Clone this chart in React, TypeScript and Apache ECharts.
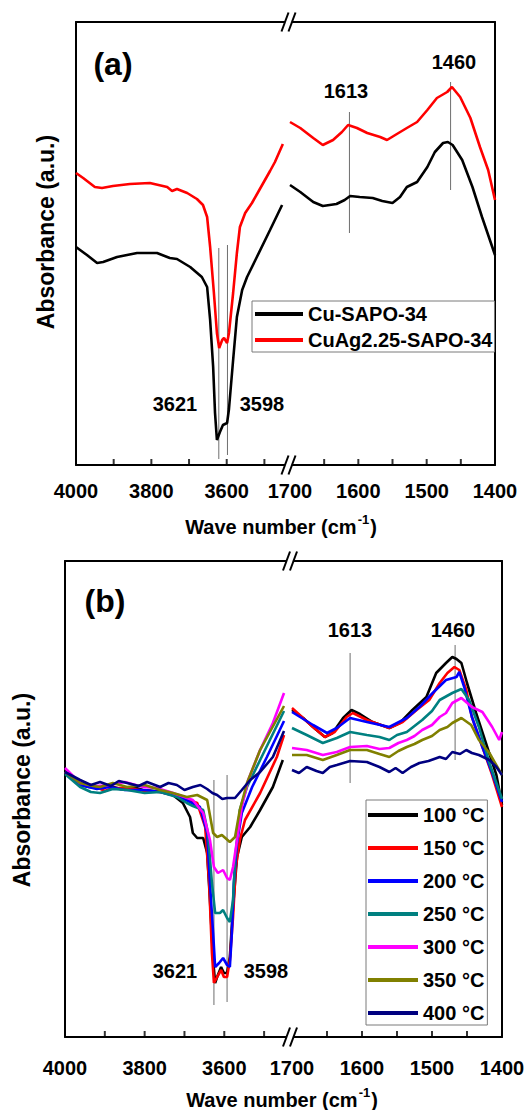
import React, { useEffect, useRef } from 'react';
import * as echarts from 'echarts';

const FONT = '"Liberation Sans", Arial, Helvetica, sans-serif';

// ---------- Panel (a) ----------
const aNames = ['Cu-SAPO-34', 'CuAg2.25-SAPO-34'];
const aColors = ['#000000', '#ff0000'];

const aCuLeft: [number, number][] = [
  [4000, 218], [3971, 210], [3944, 202], [3928, 203], [3891, 208], [3838, 212], [3785, 212],
  [3751, 207], [3732, 206], [3697, 198], [3666, 188], [3652, 178], [3644, 145], [3636, 98],
  [3631, 52], [3626, 25], [3618, 33], [3610, 40], [3599, 42], [3594, 56], [3583, 105],
  [3573, 148], [3559, 175], [3546, 188], [3520, 208], [3485, 235], [3453, 260],
];
const aCuRight: [number, number][] = [
  [1700, 280], [1685, 273], [1666, 263], [1652, 259], [1632, 261], [1620, 265], [1612, 269],
  [1598, 268], [1579, 267], [1565, 264], [1550, 262], [1539, 268], [1529, 278], [1514, 283],
  [1499, 298], [1488, 313], [1476, 322], [1469, 323], [1462, 320], [1448, 305], [1433, 278],
  [1419, 248], [1404, 218], [1400, 210],
];
const aAgLeft: [number, number][] = [
  [4000, 292], [3981, 287], [3950, 278], [3931, 277], [3902, 279], [3857, 281], [3804, 282],
  [3758, 278], [3745, 274], [3732, 276], [3705, 272], [3679, 266], [3663, 260], [3652, 248],
  [3644, 218], [3634, 172], [3626, 132], [3620, 117], [3612, 125], [3607, 127], [3599, 122],
  [3594, 132], [3583, 172], [3573, 212], [3565, 238], [3551, 252], [3533, 262], [3512, 276],
  [3485, 294], [3472, 303], [3451, 321],
];
const aAgRight: [number, number][] = [
  [1700, 343], [1685, 337], [1666, 327], [1652, 320], [1637, 325], [1624, 333], [1615, 340],
  [1602, 337], [1587, 332], [1568, 328], [1558, 325], [1546, 330], [1529, 337], [1514, 343],
  [1499, 355], [1485, 367], [1470, 373], [1463, 378], [1451, 368], [1436, 347], [1422, 318],
  [1410, 295], [1400, 265],
];
// peak marker lines: [wavenumber, yFrom, yTo]
const aPeakLinesLeft: [number, number, number][] = [[3621, 6, 217], [3598, 10, 220]];
const aPeakLinesRight: [number, number, number][] = [[1613, 232, 353], [1465, 275, 383]];

// ---------- Panel (b) ----------
const bNames = ['100 °C', '150 °C', '200 °C', '250 °C', '300 °C', '350 °C', '400 °C'];
const bColors = ['#000000', '#ff0000', '#0000ff', '#008080', '#ff00ff', '#808000', '#000080'];

const b100Left: [number, number][] = [
  [4000, 265], [3985, 259], [3962, 252], [3940, 250], [3912, 249], [3887, 251], [3860, 248],
  [3830, 250], [3804, 247], [3775, 246], [3745, 245], [3729, 242], [3704, 234], [3686, 220],
  [3679, 204], [3668, 199], [3653, 199], [3643, 184], [3636, 137], [3628, 77], [3623, 54],
  [3618, 60], [3608, 70], [3601, 64], [3593, 64], [3586, 80], [3578, 130], [3568, 180],
  [3556, 200], [3535, 210], [3510, 227], [3478, 250], [3453, 277],
];
const b150Left: [number, number][] = [
  [4000, 265], [3962, 252], [3920, 250], [3900, 246], [3880, 249], [3840, 249], [3800, 246],
  [3761, 245], [3711, 240], [3668, 234], [3648, 210], [3638, 154], [3631, 84], [3626, 54],
  [3618, 60], [3608, 67], [3601, 60], [3593, 60], [3586, 77], [3578, 120], [3571, 170],
  [3561, 197], [3548, 217], [3510, 244], [3468, 280], [3450, 302],
];
const b200Left: [number, number][] = [
  [4000, 265], [3962, 252], [3920, 248], [3887, 250], [3850, 247], [3800, 247], [3761, 245],
  [3711, 240], [3661, 230], [3643, 204], [3636, 154], [3628, 104], [3623, 70], [3613, 74],
  [3603, 79], [3593, 72], [3586, 70], [3581, 104], [3576, 154], [3568, 194], [3556, 224],
  [3530, 250], [3493, 280], [3450, 316],
];
const b250Left: [number, number][] = [
  [4000, 263], [3962, 250], [3935, 245], [3912, 244], [3880, 248], [3844, 247], [3800, 244],
  [3761, 245], [3719, 240], [3694, 234], [3679, 231], [3653, 227], [3641, 204], [3631, 154],
  [3623, 124], [3611, 124], [3603, 127], [3593, 119], [3586, 115], [3578, 137], [3573, 177],
  [3561, 227], [3543, 250], [3510, 277], [3450, 326],
];
const b300Left: [number, number][] = [
  [4000, 269], [3962, 254], [3920, 251], [3887, 252], [3850, 255], [3804, 250], [3770, 249],
  [3736, 245], [3679, 237], [3653, 224], [3636, 197], [3626, 170], [3616, 164], [3603, 167],
  [3593, 159], [3586, 157], [3578, 170], [3568, 197], [3556, 230], [3540, 257], [3510, 287],
  [3478, 314], [3450, 344],
];
const b350Left: [number, number][] = [
  [4000, 265], [3962, 254], [3930, 251], [3912, 250], [3880, 254], [3844, 250], [3800, 252],
  [3761, 247], [3729, 244], [3694, 240], [3668, 242], [3643, 237], [3628, 204], [3618, 200],
  [3606, 202], [3586, 195], [3573, 200], [3561, 227], [3543, 254], [3510, 287], [3450, 331],
];
const b400Left: [number, number][] = [
  [4000, 265], [3962, 257], [3935, 252], [3912, 255], [3885, 251], [3865, 256], [3844, 254],
  [3815, 251], [3794, 255], [3761, 250], [3740, 254], [3719, 252], [3700, 247], [3679, 250],
  [3660, 252], [3643, 248], [3630, 244], [3618, 242], [3605, 238], [3593, 239], [3573, 239],
  [3556, 247], [3535, 257], [3510, 265], [3478, 280], [3450, 306],
];

const b100Right: [number, number][] = [
  [1700, 327], [1684, 319], [1670, 310], [1653, 300], [1642, 304], [1627, 319], [1615, 327],
  [1603, 323], [1585, 315], [1561, 309], [1546, 314], [1528, 327], [1508, 340], [1494, 364],
  [1480, 374], [1471, 380], [1465, 378], [1458, 374], [1450, 354], [1437, 324], [1423, 294],
  [1408, 262], [1400, 232],
];
const b150Right: [number, number][] = [
  [1700, 329], [1670, 310], [1653, 300], [1639, 305], [1622, 320], [1613, 324], [1593, 317],
  [1561, 309], [1542, 315], [1522, 327], [1504, 337], [1489, 354], [1478, 364], [1468, 370],
  [1461, 367], [1451, 347], [1443, 320], [1428, 290], [1414, 262], [1400, 230],
];
const b200Right: [number, number][] = [
  [1700, 325], [1670, 312], [1650, 304], [1636, 309], [1617, 319], [1593, 315], [1561, 310],
  [1536, 319], [1518, 330], [1499, 344], [1480, 357], [1465, 360], [1461, 365], [1454, 350],
  [1443, 320], [1428, 290], [1414, 264], [1400, 235],
];
const b250Right: [number, number][] = [
  [1700, 309], [1679, 302], [1656, 294], [1636, 299], [1617, 305], [1593, 302], [1575, 300],
  [1561, 297], [1550, 302], [1536, 305], [1514, 317], [1500, 326], [1489, 337], [1471, 344],
  [1458, 348], [1447, 337], [1433, 310], [1418, 274], [1400, 238],
];
const b300Right: [number, number][] = [
  [1700, 289], [1679, 287], [1656, 282], [1636, 285], [1617, 290], [1593, 291], [1575, 288],
  [1561, 289], [1548, 294], [1536, 297], [1525, 301], [1514, 307], [1500, 312], [1489, 320],
  [1480, 324], [1471, 334], [1458, 339], [1443, 330], [1428, 325], [1414, 310], [1404, 297],
  [1400, 305],
];
const b350Right: [number, number][] = [
  [1700, 282], [1679, 282], [1656, 277], [1636, 282], [1617, 287], [1593, 287], [1575, 283],
  [1561, 280], [1548, 286], [1536, 290], [1525, 293], [1514, 297], [1500, 301], [1489, 307],
  [1478, 310], [1471, 314], [1458, 319], [1444, 312], [1433, 297], [1418, 284], [1400, 262],
];
const b400Right: [number, number][] = [
  [1700, 267], [1690, 264], [1679, 270], [1665, 266], [1656, 264], [1646, 270], [1636, 272],
  [1617, 276], [1593, 275], [1575, 270], [1561, 265], [1552, 269], [1542, 264], [1530, 270],
  [1518, 274], [1505, 276], [1489, 280], [1480, 278], [1471, 285], [1460, 283], [1451, 287],
  [1443, 284], [1433, 282], [1418, 277], [1408, 270], [1400, 262],
];
const bLeftData = [b100Left, b150Left, b200Left, b250Left, b300Left, b350Left, b400Left];
const bRightData = [b100Right, b150Right, b200Right, b250Right, b300Right, b350Right, b400Right];
const bPeakLinesLeft: [number, number, number][] = [[3626, 32, 257], [3593, 35, 262]];
const bPeakLinesRight: [number, number, number][] = [[1617, 254, 384], [1467, 277, 392]];

// axis ticks
const leftTicks = [4000, 3900, 3800, 3700, 3600, 3500];
const leftLabels = [4000, 3800, 3600];
const rightTicks = [1700, 1650, 1600, 1550, 1500, 1450, 1400];
const rightLabels = [1700, 1600, 1500, 1400];

function App() {
  const ref = useRef<HTMLDivElement>(null);
  useEffect(() => {
    if (!ref.current) return;
    const chart = echarts.init(ref.current, undefined, { renderer: 'svg' });

    const grids = [
      { left: 76, top: 22, width: 211, height: 443 },
      { left: 290, top: 22, width: 205, height: 443 },
      { left: 65, top: 561, width: 223, height: 476 },
      { left: 292, top: 561, width: 210, height: 476 },
    ];
    const lbl = (vals: number[], margin: number) => ({
      show: true,
      customValues: vals,
      formatter: (v: number) => String(v),
      fontSize: 20,
      fontWeight: 'bold',
      color: '#000',
      fontFamily: FONT,
      margin,
    });
    const bottomX = (gi: number, left: boolean, margin: number) => ({
      type: 'value',
      gridIndex: gi,
      position: 'bottom',
      min: left ? 3440 : 1400,
      max: left ? 4000 : 1700,
      inverse: true,
      axisLine: { show: true, onZero: false, lineStyle: { color: '#000', width: 2 } },
      axisTick: { show: false },
      axisLabel: lbl(left ? leftLabels : rightLabels, margin),
      splitLine: { show: false },
    });
    const topX = (gi: number, left: boolean) => ({
      type: 'value',
      gridIndex: gi,
      position: 'top',
      min: left ? 3440 : 1400,
      max: left ? 4000 : 1700,
      inverse: true,
      axisLine: { show: true, onZero: false, lineStyle: { color: '#000', width: 2 } },
      axisTick: { show: false },
      axisLabel: { show: false },
      splitLine: { show: false },
    });
    const yAx = (gi: number, max: number, pos: string) => ({
      type: 'value',
      gridIndex: gi,
      min: 0,
      max,
      position: pos,
      axisLine: { show: true, onZero: false, lineStyle: { color: '#000', width: 2 } },
      axisTick: { show: false },
      axisLabel: { show: false },
      splitLine: { show: false },
    });

    const xAxis = [
      bottomX(0, true, 16), bottomX(1, false, 16), bottomX(2, true, 21), bottomX(3, false, 21),
      topX(0, true), topX(1, false), topX(2, true), topX(3, false),
    ];
    const yAxis = [yAx(0, 443, 'left'), yAx(1, 443, 'right'), yAx(2, 476, 'left'), yAx(3, 476, 'right')];

    const line = (name: string, color: string, data: [number, number][], idx: number) => ({
      type: 'line',
      name,
      data,
      xAxisIndex: idx,
      yAxisIndex: idx,
      showSymbol: false,
      symbol: 'none',
      silent: true,
      lineStyle: { color, width: 2.6 },
      itemStyle: { color },
      z: 3,
    });
    const peak = (p: [number, number, number], idx: number) => ({
      type: 'line',
      name: 'peak',
      data: [[p[0], p[1]], [p[0], p[2]]],
      xAxisIndex: idx,
      yAxisIndex: idx,
      showSymbol: false,
      symbol: 'none',
      silent: true,
      lineStyle: { color: '#6e6e6e', width: 1 },
      z: 2,
    });
    // inward tick marks on the bottom axis, placed through the axis scale
    const ticks = (vals: number[], idx: number) => ({
      type: 'scatter',
      name: 'ticks',
      data: vals.map((v) => [v, 0]),
      xAxisIndex: idx,
      yAxisIndex: idx,
      symbol: 'rect',
      symbolSize: [2, 6],
      symbolOffset: [0, -3],
      clip: false,
      silent: true,
      itemStyle: { color: '#000' },
      z: 5,
    });

    const series: any[] = [];
    series.push(line(aNames[0], aColors[0], aCuLeft, 0));
    series.push(line(aNames[0], aColors[0], aCuRight, 1));
    series.push(line(aNames[1], aColors[1], aAgLeft, 0));
    series.push(line(aNames[1], aColors[1], aAgRight, 1));
    aPeakLinesLeft.forEach((p) => series.push(peak(p, 0)));
    aPeakLinesRight.forEach((p) => series.push(peak(p, 1)));
    bNames.forEach((n, i) => {
      series.push(line(n, bColors[i], bLeftData[i], 2));
      series.push(line(n, bColors[i], bRightData[i], 3));
    });
    bPeakLinesLeft.forEach((p) => series.push(peak(p, 2)));
    bPeakLinesRight.forEach((p) => series.push(peak(p, 3)));
    series.push(ticks(leftTicks, 0), ticks(rightTicks, 1), ticks(leftTicks, 2), ticks(rightTicks, 3));

    const txt = (x: number, y: number, text: string, size: number, rotation = 0) => ({
      type: 'text',
      x,
      y,
      rotation,
      z: 50,
      style: {
        text,
        fill: '#000',
        font: `bold ${size}px ${FONT}`,
        align: 'center',
        verticalAlign: 'middle',
        textAlign: 'center',
        textVerticalAlign: 'middle',
      },
    });
    const xTitle = (x: number, y: number) => ({
      type: 'text',
      x,
      y,
      z: 50,
      style: {
        text: '{n|Wave number (cm}{s|-1}{n|)}',
        align: 'center',
        verticalAlign: 'middle',
        textAlign: 'center',
        textVerticalAlign: 'middle',
        rich: {
          n: { fontSize: 20, fontWeight: 'bold', fontFamily: FONT, fill: '#000', lineHeight: 24, verticalAlign: 'bottom' },
          s: { fontSize: 13, fontWeight: 'bold', fontFamily: FONT, fill: '#000', lineHeight: 24, verticalAlign: 'top', padding: [0, 1, 8, 1] },
        },
      },
    });
    const brk = (x: number, y: number) => {
      const h = 9.5;
      const d = 3.5;
      return [
        {
          type: 'polygon',
          z: 60,
          shape: { points: [[x - d - 3.5, y + h], [x - d + 3.5, y - h], [x + d + 3.5, y - h], [x + d - 3.5, y + h]] },
          style: { fill: '#ffffff' },
        },
        { type: 'line', z: 61, shape: { x1: x - d - 3.5, y1: y + h, x2: x - d + 3.5, y2: y - h }, style: { stroke: '#000', lineWidth: 2 } },
        { type: 'line', z: 61, shape: { x1: x + d - 3.5, y1: y + h, x2: x + d + 3.5, y2: y - h }, style: { stroke: '#000', lineWidth: 2 } },
      ];
    };

    const graphic: any[] = [
      txt(113, 64, '(a)', 32),
      txt(105, 601, '(b)', 32),
      txt(46, 232, 'Absorbance (a.u.)', 23, Math.PI / 2),
      txt(22, 790, 'Absorbance (a.u.)', 23, Math.PI / 2),
      txt(346, 91, '1613', 20),
      txt(454, 62, '1460', 20),
      txt(175, 404, '3621', 20),
      txt(262, 404, '3598', 20),
      txt(350, 630, '1613', 20),
      txt(453, 630, '1460', 20),
      txt(175, 971, '3621', 20),
      txt(266, 971, '3598', 20),
      xTitle(281, 525),
      xTitle(282, 1098),
      ...brk(288.5, 22),
      ...brk(288.5, 465),
      ...brk(290, 561),
      ...brk(290, 1037),
    ];

    const legendText = { fontSize: 20, fontWeight: 'bold', color: '#000', fontFamily: FONT, lineHeight: 20 };

    chart.setOption({
      animation: false,
      backgroundColor: '#ffffff',
      grid: grids,
      xAxis,
      yAxis,
      series,
      legend: [
        {
          data: aNames,
          orient: 'vertical',
          left: 252,
          top: 301,
          itemWidth: 48,
          itemHeight: 4,
          itemGap: 6,
          icon: 'rect',
          padding: [3, 2, 2, 3],
          borderColor: '#7a7a7a',
          borderWidth: 1,
          textStyle: legendText,
          selectedMode: false,
        },
        {
          data: bNames,
          orient: 'vertical',
          left: 366,
          top: 800,
          itemWidth: 50,
          itemHeight: 4,
          itemGap: 13,
          icon: 'rect',
          padding: [5, 3, 2, 2],
          borderColor: '#7a7a7a',
          borderWidth: 1,
          textStyle: legendText,
          selectedMode: false,
        },
      ],
      graphic,
    });
    return () => chart.dispose();
  }, []);
  return <div ref={ref} style={{ width: 528, height: 1110, position: 'absolute', left: 0, top: 0 }} />;
}

export default App;
